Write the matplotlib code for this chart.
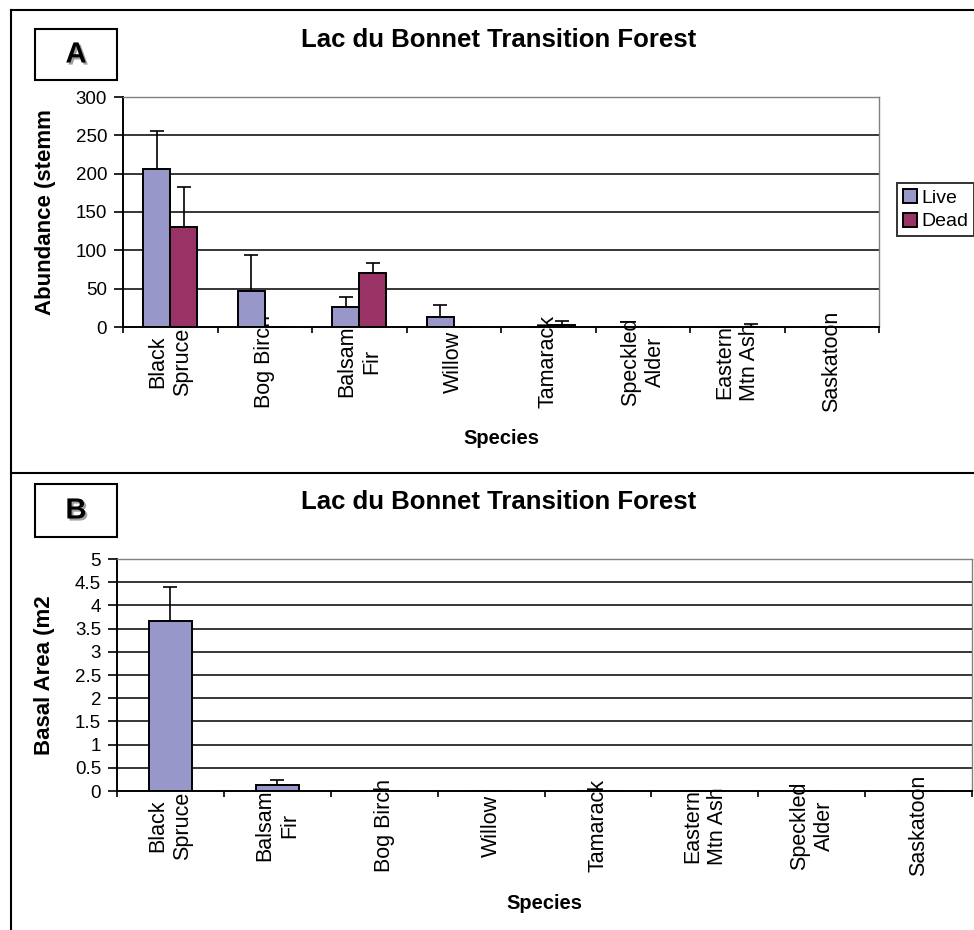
# ------------------------------------------------------------------------------
import numpy as np
import matplotlib
matplotlib.use('Agg')
import matplotlib.pyplot as plt
import matplotlib.patheffects as pe
from matplotlib.lines import Line2D
from matplotlib.patches import Rectangle
# ------------------------------------------------------------------------------
# data
# ------------------------------------------------------------------------------
title = 'Lac du Bonnet Transition Forest'

speciesA = ['Black\nSpruce', 'Bog Birch', 'Balsam\nFir', 'Willow', 'Tamarack',
            'Speckled\nAlder', 'Eastern\nMtn Ash', 'Saskatoon']
liveA    = [206, 47, 26, 13.5, 0, 0, 0, 0]
liveErrA = [50, 47, 13, 15.5, 0, 0, 0, 0]
deadA    = [130, 0, 71, 0, 2.5, 0, 0.5, 0]
deadErrA = [52, 0, 13, 0, 5, 0, 3, 0]
yticksA  = [0, 50, 100, 150, 200, 250, 300]

speciesB = ['Black\nSpruce', 'Balsam\nFir', 'Bog Birch', 'Willow', 'Tamarack',
            'Eastern\nMtn Ash', 'Speckled\nAlder', 'Saskatoon']
basalB    = [3.66, 0.12, 0, 0, 0, 0, 0, 0]
basalErrB = [0.74, 0.12, 0, 0, 0, 0, 0, 0]
yticksB   = [0, 0.5, 1, 1.5, 2, 2.5, 3, 3.5, 4, 4.5, 5]
yticklabelsB = ['0', '0.5', '1', '1.5', '2', '2.5', '3', '3.5', '4', '4.5', '5']

liveColor = '#9797C9'
deadColor = '#993366'

plt.rcParams['font.family'] = ['Liberation Sans', 'DejaVu Sans']

W, H = 974, 930
fig = plt.figure(figsize=(W/100, H/100), dpi=100)

def fx(px):
    return px / W

def fy(py):
    return 1 - py / H

# ------------------------------------------------------------------------------
# helper for the Excel look
# ------------------------------------------------------------------------------
def style_axes(ax, yticks, ncat):
    ax.set_xlim(0, ncat)
    ax.set_ylim(yticks[0], yticks[-1])
    ax.set_yticks(yticks)
    for v in yticks[1:-1]:
        ax.axhline(v, color='black', lw=1.1, zorder=0)
    ax.spines['top'].set_color('#808080')
    ax.spines['right'].set_color('#808080')
    ax.spines['top'].set_linewidth(1.0)
    ax.spines['right'].set_linewidth(1.0)
    ax.spines['left'].set_linewidth(1.4)
    ax.spines['bottom'].set_linewidth(1.4)
    ax.tick_params(axis='y', direction='out', length=6.5, width=1.2,
                   labelsize=13.5, pad=5)
    # categories: labels centred below the axis, ticks between categories
    ax.set_xticks(np.arange(ncat) + 0.5)
    ax.set_xticks(np.arange(ncat + 1), minor=True)
    ax.tick_params(axis='x', which='major', length=0, pad=25, labelsize=15.5)
    ax.tick_params(axis='x', which='minor', direction='out', length=4, width=1.2)
    for lab in ax.get_xticklabels():
        lab.set_rotation(90)
        lab.set_va('center')
        lab.set_multialignment('center')
        lab.set_linespacing(1.25)

def panel_box(letter, x0, y0, x1, y1):
    fig.add_artist(Rectangle((fx(x0), fy(y1)), fx(x1) - fx(x0), fy(y0) - fy(y1),
                             transform=fig.transFigure, fill=False,
                             edgecolor='black', lw=1.5))
    fig.text(fx((x0 + x1) / 2), fy((y0 + y1) / 2), letter, fontsize=21,
             fontweight='bold', ha='center', va='center',
             path_effects=[pe.withSimplePatchShadow(offset=(1.5, -1.5),
                                                    shadow_rgbFace='#777777',
                                                    alpha=0.7)])

# ------------------------------------------------------------------------------
# Panel A : abundance, live vs dead
# ------------------------------------------------------------------------------
axA = fig.add_axes([fx(123), fy(327), fx(879) - fx(123), fy(97) - fy(327)])
x = np.arange(len(speciesA)) + 0.5
bw = 1 / 3.5
axA.bar(x - bw/2, liveA, bw, color=liveColor, edgecolor='black', lw=1.4,
        label='Live', zorder=2)
axA.bar(x + bw/2, deadA, bw, color=deadColor, edgecolor='black', lw=1.4,
        label='Dead', zorder=2)
axA.errorbar(x - bw/2, liveA, yerr=[np.zeros(len(liveA)), liveErrA], fmt='none',
             ecolor='black', elinewidth=1.2, capsize=5, capthick=1.2, zorder=1)
axA.errorbar(x + bw/2, deadA, yerr=[np.zeros(len(deadA)), deadErrA], fmt='none',
             ecolor='black', elinewidth=1.2, capsize=5, capthick=1.2, zorder=1)
axA.set_xticklabels(speciesA)
style_axes(axA, yticksA, len(speciesA))
axA.set_ylabel('Abundance (stemm', fontsize=16, fontweight='bold')
axA.yaxis.label.set_va('center')
axA.yaxis.set_label_coords((45 - 123) / 756, 0.5)
axA.set_xlabel('Species', fontsize=14.5, fontweight='bold')
axA.xaxis.set_label_coords(0.5, -(438 - 327) / 230)
axA.xaxis.label.set_va('center')

leg = axA.legend(loc='upper left', bbox_to_anchor=(fx(897), fy(183)),
                 bbox_transform=fig.transFigure, borderaxespad=0, fontsize=14,
                 frameon=True, fancybox=False, edgecolor='black',
                 handlelength=0.75, handleheight=0.75, handletextpad=0.2,
                 borderpad=0.3, labelspacing=0.3)
leg.get_frame().set_linewidth(1.4)

fig.text(fx(499), fy(40), title, fontsize=18.5, fontweight='bold',
         ha='center', va='center')
panel_box('A', 35, 29, 117, 80)

# ------------------------------------------------------------------------------
# Panel B : basal area
# ------------------------------------------------------------------------------
axB = fig.add_axes([fx(117), fy(791), fx(972) - fx(117), fy(559) - fy(791)])
xb = np.arange(len(speciesB)) + 0.5
bwb = 1 / 2.5
axB.bar(xb, basalB, bwb, color=liveColor, edgecolor='black', lw=1.4, zorder=2)
axB.errorbar(xb, basalB, yerr=[np.zeros(len(basalB)), basalErrB], fmt='none',
             ecolor='black', elinewidth=1.2, capsize=5, capthick=1.2, zorder=1)
axB.set_xticklabels(speciesB)
style_axes(axB, yticksB, len(speciesB))
axB.set_yticklabels(yticklabelsB)
axB.set_ylabel('Basal Area (m2', fontsize=16, fontweight='bold')
axB.yaxis.label.set_va('center')
axB.yaxis.set_label_coords((45 - 117) / 855, 0.5)
axB.set_xlabel('Species', fontsize=14.5, fontweight='bold')
axB.xaxis.set_label_coords(0.5, -(903 - 791) / 232)
axB.xaxis.label.set_va('center')

fig.text(fx(499), fy(502), title, fontsize=18.5, fontweight='bold',
         ha='center', va='center')
panel_box('B', 35, 484, 117, 537)

# ------------------------------------------------------------------------------
# outer frame lines
# ------------------------------------------------------------------------------
fig.add_artist(Line2D([fx(11), fx(11)], [fy(10), 0], transform=fig.transFigure,
                      color='black', lw=1.5))
fig.add_artist(Line2D([fx(11), 1], [fy(10), fy(10)], transform=fig.transFigure,
                      color='black', lw=1.5))
fig.add_artist(Line2D([fx(11), 1], [fy(473), fy(473)], transform=fig.transFigure,
                      color='black', lw=1.5))

fig.savefig('out.png', dpi=100)
